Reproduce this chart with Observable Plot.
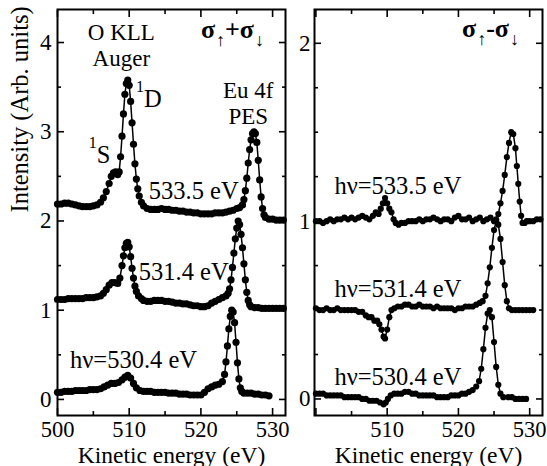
<!DOCTYPE html>
<html>
<head>
<meta charset="utf-8">
<script src="https://cdn.jsdelivr.net/npm/d3@7"></script>
<script src="https://cdn.jsdelivr.net/npm/@observablehq/plot@0.6"></script>
<style>
  html, body { margin: 0; padding: 0; background: #fff; }
  #wrap { position: relative; width: 547px; height: 466px; background: #fff; }
  .panel { position: absolute; top: 0; }
  #wrap svg, #wrap svg text, #wrap svg tspan { font-family: "Liberation Serif", "Times New Roman", serif !important; }
</style>
</head>
<body>
<div id="wrap"></div>
<script>
// ---------- Left panel: sigma_up + sigma_down (hv = 533.5, 531.4, 530.4 eV) ----------
const eSum533 = [500,500.5,501,501.5,502,502.5,503,503.5,504,504.5,505,505.5,506,506.4,506.8,507.2,507.5,507.8,508.1,508.4,508.6,508.8,509.0,509.2,509.4,509.6,509.8,510.0,510.2,510.4,510.6,510.8,511.0,511.2,511.4,511.7,512,512.5,513,513.5,514,514.5,515,515.5,516,516.5,517,517.5,518,518.5,519,519.5,520,520.5,521,521.5,522,522.5,523,523.5,524,524.5,525,525.4,525.8,526.0,526.2,526.4,526.6,526.8,527.0,527.2,527.4,527.6,527.8,528.0,528.2,528.4,528.6,528.8,529.0,529.5,530,530.5,531,531.5];
const iSum533 = [2.19,2.19,2.20,2.20,2.19,2.18,2.17,2.16,2.16,2.16,2.17,2.18,2.21,2.26,2.33,2.42,2.50,2.54,2.55,2.52,2.55,2.72,2.95,3.20,3.42,3.54,3.58,3.52,3.34,3.10,2.86,2.64,2.47,2.36,2.28,2.21,2.17,2.14,2.13,2.13,2.13,2.14,2.13,2.13,2.12,2.12,2.11,2.11,2.10,2.10,2.09,2.09,2.08,2.08,2.08,2.08,2.09,2.09,2.09,2.10,2.11,2.12,2.14,2.15,2.18,2.24,2.34,2.48,2.65,2.80,2.91,2.98,3.00,2.98,2.88,2.68,2.46,2.27,2.14,2.07,2.04,2.02,2.02,2.01,2.01,2.01];

const eSum531 = [500,500.5,501,501.5,502,502.5,503,503.5,504,504.5,505,505.5,506,506.4,506.8,507.2,507.6,508.0,508.4,508.7,509.0,509.2,509.4,509.6,509.8,510.0,510.2,510.4,510.6,510.8,511.0,511.3,511.7,512,512.5,513,513.5,514,514.5,515,515.5,516,516.5,517,517.5,518,518.5,519,519.5,520,520.5,521,521.5,522,522.5,523,523.5,523.8,524.0,524.2,524.4,524.6,524.8,525.0,525.2,525.4,525.6,525.8,526.0,526.2,526.4,526.6,526.8,527.0,527.5,528,528.5,529,529.5,530,530.5,531,531.5];
const iSum531 = [1.12,1.12,1.12,1.13,1.13,1.13,1.13,1.13,1.14,1.14,1.14,1.15,1.16,1.19,1.23,1.28,1.31,1.31,1.30,1.36,1.50,1.61,1.70,1.75,1.76,1.71,1.60,1.47,1.36,1.27,1.21,1.16,1.13,1.11,1.10,1.10,1.11,1.11,1.11,1.10,1.10,1.09,1.08,1.08,1.07,1.07,1.06,1.05,1.05,1.04,1.04,1.05,1.08,1.10,1.12,1.14,1.16,1.19,1.24,1.34,1.48,1.64,1.80,1.92,2.00,1.96,1.85,1.70,1.52,1.34,1.20,1.11,1.06,1.04,1.03,1.03,1.02,1.02,1.02,1.02,1.02,1.02,1.02];

const eSum530 = [500,500.5,501,501.5,502,502.5,503,503.5,504,504.5,505,505.5,506,506.5,507,507.5,508,508.5,509,509.4,509.8,510.2,510.6,511,511.5,512,512.5,513,513.5,514,514.5,515,515.5,516,516.5,517,517.5,518,518.5,519,519.5,520,520.5,521,521.5,522,522.5,523,523.3,523.5,523.7,523.9,524.1,524.3,524.5,524.7,524.9,525.1,525.3,525.5,525.7,526,526.5,527,527.5,528,528.5,529,529.5];
const iSum530 = [0.08,0.08,0.09,0.09,0.09,0.10,0.10,0.10,0.10,0.11,0.11,0.11,0.12,0.14,0.16,0.18,0.18,0.19,0.22,0.25,0.27,0.24,0.18,0.13,0.10,0.09,0.09,0.09,0.08,0.08,0.08,0.08,0.07,0.07,0.07,0.06,0.06,0.06,0.05,0.05,0.05,0.05,0.08,0.12,0.14,0.16,0.17,0.20,0.28,0.42,0.60,0.79,0.93,1.00,0.98,0.86,0.64,0.41,0.23,0.13,0.09,0.07,0.07,0.07,0.06,0.06,0.05,0.05,0.04];

// ---------- Right panel: sigma_up - sigma_down ----------
const eDif533 = [500,500.5,501,501.5,502,502.5,503,503.5,504,504.5,505,505.5,506,506.5,507,507.5,508,508.4,508.8,509.1,509.4,509.7,510.0,510.3,510.6,510.9,511.2,511.6,512,512.5,513,513.5,514,514.5,515,515.5,516,516.5,517,517.5,518,518.5,519,519.5,520,520.5,521,521.5,522,522.5,523,523.5,524,524.5,525,525.3,525.6,525.9,526.2,526.5,526.8,527.1,527.4,527.7,528.0,528.2,528.4,528.6,528.8,529.0,529.3,529.6,530,530.5,531,531.5];
const iDif533 = [1.00,1.00,0.99,1.00,1.01,1.00,1.01,1.01,1.02,1.01,1.02,1.01,1.02,1.03,1.02,1.01,1.03,1.05,1.04,1.07,1.10,1.13,1.10,1.07,1.05,1.01,0.99,0.98,0.99,0.99,1.00,1.00,1.00,1.01,1.00,1.01,1.01,1.02,1.01,1.00,1.01,1.01,1.00,1.02,1.03,1.01,1.01,1.02,1.00,1.01,1.02,1.00,1.01,1.02,1.00,1.01,1.04,1.10,1.17,1.26,1.36,1.44,1.50,1.49,1.41,1.31,1.21,1.11,1.03,0.99,0.99,1.00,1.00,1.00,1.01,1.01];

const eDif531 = [500,500.5,501,501.5,502,502.5,503,503.5,504,504.5,505,505.5,506,506.5,507,507.4,507.8,508.2,508.6,508.9,509.2,509.5,509.7,510.0,510.3,510.6,511,511.5,512,512.5,513,513.5,514,514.5,515,515.5,516,516.5,517,517.5,518,518.5,519,519.5,520,520.5,521,521.5,522,522.5,523,523.4,523.8,524.1,524.4,524.7,525.0,525.3,525.6,525.9,526.2,526.5,526.8,527.1,527.5,528,528.5,529,529.5,530,530.5];
const iDif531 = [0.51,0.50,0.50,0.51,0.50,0.50,0.51,0.50,0.50,0.50,0.50,0.50,0.49,0.49,0.47,0.46,0.46,0.44,0.44,0.42,0.39,0.35,0.34,0.39,0.46,0.50,0.51,0.52,0.52,0.53,0.53,0.52,0.52,0.53,0.52,0.52,0.52,0.51,0.52,0.51,0.51,0.51,0.51,0.50,0.51,0.51,0.52,0.52,0.52,0.53,0.54,0.55,0.58,0.65,0.74,0.85,0.95,1.00,0.98,0.90,0.77,0.64,0.55,0.51,0.50,0.50,0.50,0.50,0.50,0.50,0.50];

const eDif530 = [500,500.5,501,501.5,502,502.5,503,503.5,504,504.5,505,505.5,506,506.5,507,507.5,508,508.5,509,509.5,509.8,510.1,510.5,511,511.5,512,512.5,513,513.5,514,514.5,515,515.5,516,516.5,517,517.5,518,518.5,519,519.5,520,520.5,521,521.5,522,522.5,522.9,523.2,523.5,523.8,524.1,524.4,524.7,525.0,525.3,525.6,525.9,526.3,527,527.5,528,528.5,529,529.5];
const iDif530 = [0.03,0.03,0.03,0.02,0.02,0.02,0.02,0.02,0.01,0.01,0.01,0.01,0.01,0.00,0.00,-0.01,-0.01,-0.01,-0.02,-0.03,-0.02,0.00,0.02,0.03,0.03,0.03,0.04,0.04,0.03,0.03,0.02,0.02,0.02,0.02,0.02,0.01,0.01,0.01,0.01,0.02,0.02,0.02,0.03,0.03,0.04,0.05,0.07,0.10,0.17,0.28,0.40,0.48,0.50,0.46,0.32,0.18,0.08,0.03,0.01,0.01,0.01,0.00,0.00,0.00,0.00];

// ---------- Ticks ----------
const xMajorTicks = [500, 510, 520, 530];
const xMinorTicks = [505, 515, 525];
const xLabelsLeft = [500, 510, 520, 530];
const xLabelsRight = [510, 520, 530];
const yMajorLeft = [0, 1, 2, 3, 4];
const yMinorLeft = [0.5, 1.5, 2.5, 3.5];
const yMajorRight = [0, 1, 2];
const yMinorRight = [0.25, 0.5, 0.75, 1.25, 1.5, 1.75];

// ---------- Annotations ----------
const notesAuger = [{e: 508.9, v: 3.74, t: "O KLL\nAuger"}];
const notesPES = [{e: 526.6, v: 3.09, t: "Eu 4f\nPES"}];
const notesLeftMid = [
  {e: 519.0, v: 2.25, t: "533.5 eV"},
  {e: 517.6, v: 1.335, t: "531.4 eV"},
  {e: 510.6, v: 0.35, t: "hν=530.4 eV"}
];
const notesLeftStart = [
  {e: 510.94, v: 3.28, t: "^{1}D"},
  {e: 504.37, v: 2.65, t: "^{1}S"}
];
const sigmaLeft = [{e: 520.0, v: 4.05, t: "σ_{↑}+σ_{↓}"}];
const notesRightMid = [
  {e: 511.5, v: 1.154, t: "hν=533.5 eV"},
  {e: 511.5, v: 0.573, t: "hν=531.4 eV"},
  {e: 511.5, v: 0.08, t: "hν=530.4 eV"}
];
const sigmaRight = [{e: 520.5, v: 2.034, t: "σ_{↑}-σ_{↓}"}];

const rows = (E, I) => E.map((e, i) => ({e, v: I[i]}));
const FONT = "Liberation Serif";

function frameAxes(xLabels, yMajor, yMinor, yPad) {
  const blank = () => "";
  return [
    Plot.frame({stroke: "black", strokeWidth: 2}),
    Plot.axisX({anchor: "bottom", ticks: xMajorTicks, tickSize: -7, tickFormat: blank, label: null, strokeWidth: 1.6}),
    Plot.axisX({anchor: "bottom", ticks: xMinorTicks, tickSize: -4, tickFormat: blank, label: null, strokeWidth: 1.6}),
    Plot.axisX({anchor: "top", ticks: xMajorTicks, tickSize: -7, tickFormat: blank, label: null, strokeWidth: 1.6}),
    Plot.axisX({anchor: "top", ticks: xMinorTicks, tickSize: -4, tickFormat: blank, label: null, strokeWidth: 1.6}),
    Plot.axisX({anchor: "bottom", ticks: xLabels, tickSize: 0, tickPadding: 5.5, tickFormat: d => String(d), label: null, fontSize: 22.5, fontFamily: FONT}),
    Plot.axisY({anchor: "left", ticks: yMajor, tickSize: -7, tickFormat: blank, label: null, strokeWidth: 1.6}),
    Plot.axisY({anchor: "left", ticks: yMinor, tickSize: -4, tickFormat: blank, label: null, strokeWidth: 1.6}),
    Plot.axisY({anchor: "right", ticks: yMajor, tickSize: -7, tickFormat: blank, label: null, strokeWidth: 1.6}),
    Plot.axisY({anchor: "right", ticks: yMinor, tickSize: -4, tickFormat: blank, label: null, strokeWidth: 1.6}),
    Plot.axisY({anchor: "left", ticks: yMajor, tickSize: 0, tickPadding: yPad, tickFormat: d => String(d), label: null, fontSize: 23, fontFamily: FONT}),
    Plot.text(["Kinetic energy (eV)"], {frameAnchor: "bottom", dy: 47, lineAnchor: "bottom", fontSize: 23.5, fontFamily: FONT})
  ];
}

function spectrum(data, r) {
  return [
    Plot.line(data, {x: "e", y: "v", stroke: "black", strokeWidth: 1.5}),
    Plot.dot(data, {x: "e", y: "v", r, fill: "black", stroke: "none"})
  ];
}

const common = {fontFamily: FONT, fontSize: "23px", background: "transparent", overflow: "visible", color: "black"};

const left = Plot.plot({
  width: 300, height: 466,
  marginLeft: 57, marginRight: 15, marginTop: 9, marginBottom: 51,
  x: {domain: [500, 531.8]},
  y: {domain: [-0.18, 4.37]},
  style: common,
  marks: [
    ...frameAxes(xLabelsLeft, yMajorLeft, yMinorLeft, 6),
    ...spectrum(rows(eSum533, iSum533), 3.6),
    ...spectrum(rows(eSum531, iSum531), 3.6),
    ...spectrum(rows(eSum530, iSum530), 3.6),
    Plot.text(notesAuger, {x: "e", y: "v", text: "t", textAnchor: "middle", lineAnchor: "bottom", lineHeight: 1.12, fontSize: 23, fontFamily: FONT}),
    Plot.text(notesPES, {x: "e", y: "v", text: "t", textAnchor: "middle", lineAnchor: "bottom", lineHeight: 1.12, fontSize: 23, fontFamily: FONT}),
    Plot.text(notesLeftMid, {x: "e", y: "v", text: "t", textAnchor: "middle", lineAnchor: "bottom", fontSize: 24.5, fontFamily: FONT}),
    Plot.text(notesLeftStart, {x: "e", y: "v", text: "t", textAnchor: "start", lineAnchor: "bottom", fontSize: 24.5, fontFamily: FONT}),
    Plot.text(sigmaLeft, {x: "e", y: "v", text: "t", textAnchor: "start", lineAnchor: "bottom", fontSize: 26, fontWeight: "bold", fontFamily: FONT}),
    Plot.text(["Intensity (Arb. units)"], {frameAnchor: "left", rotate: -90, dx: -37, lineAnchor: "middle", fontSize: 24.5, fontFamily: FONT})
  ]
});

const right = Plot.plot({
  width: 257, height: 466,
  marginLeft: 24, marginRight: 5, marginTop: 9, marginBottom: 51,
  x: {domain: [499.8, 531.8]},
  y: {domain: [-0.093, 2.19]},
  style: common,
  marks: [
    ...frameAxes(xLabelsRight, yMajorRight, yMinorRight, 4),
    ...spectrum(rows(eDif533, iDif533), 3.1),
    ...spectrum(rows(eDif531, iDif531), 3.1),
    ...spectrum(rows(eDif530, iDif530), 3.1),
    Plot.text(notesRightMid, {x: "e", y: "v", text: "t", textAnchor: "middle", lineAnchor: "bottom", fontSize: 24.5, fontFamily: FONT}),
    Plot.text(sigmaRight, {x: "e", y: "v", text: "t", textAnchor: "start", lineAnchor: "bottom", fontSize: 26, fontWeight: "bold", fontFamily: FONT})
  ]
});

// Turn ^{..} / _{..} markup into real SVG superscript/subscript tspans.
function richText(svg) {
  const NS = "http://www.w3.org/2000/svg";
  svg.querySelectorAll("text").forEach(t => {
    if (t.children.length) return;
    const s = t.textContent;
    if (!/[\^_]\{/.test(s)) return;
    const parts = s.split(/(\^\{[^}]*\}|_\{[^}]*\})/).filter(p => p);
    t.textContent = "";
    let shift = 0;
    for (const p of parts) {
      const ts = document.createElementNS(NS, "tspan");
      let target = 0, content = p;
      if (p.startsWith("^{")) {
        target = -15; content = p.slice(2, -1);
        ts.setAttribute("font-size", "16px");
      } else if (p.startsWith("_{")) {
        target = 8; content = p.slice(2, -1);
        ts.setAttribute("font-size", "18px");
        ts.setAttribute("font-weight", "normal");
        ts.setAttribute("dx", "1");
      }
      ts.setAttribute("dy", String(target - shift));
      shift = target;
      ts.textContent = content;
      t.appendChild(ts);
    }
  });
}
richText(left);
richText(right);

const wrap = document.getElementById("wrap");
const dl = document.createElement("div"); dl.className = "panel"; dl.style.left = "0px"; dl.appendChild(left);
const dr = document.createElement("div"); dr.className = "panel"; dr.style.left = "290px"; dr.appendChild(right);
wrap.appendChild(dl); wrap.appendChild(dr);
</script>
</body>
</html>
